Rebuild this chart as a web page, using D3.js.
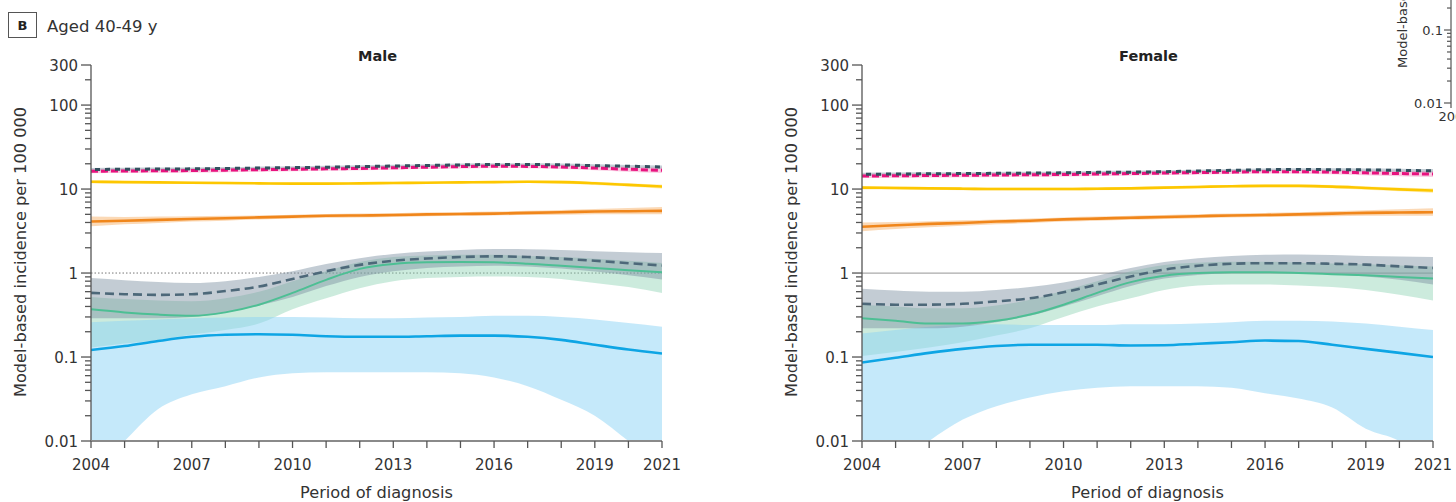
<!DOCTYPE html>
<html><head><meta charset="utf-8">
<script src="https://cdn.jsdelivr.net/npm/d3@7"></script>
<style>
body{margin:0;background:#fff;overflow:hidden}
svg{display:block}
text{font-family:"DejaVu Sans","Liberation Sans",sans-serif;fill:#333}
</style>
</head><body>
<svg id="c" width="1456" height="502"></svg>
<script>
// ---------- DATA ----------
const years = [2004,2005,2006,2007,2008,2009,2010,2011,2012,2013,2014,2015,2016,2017,2018,2019,2020,2021];
const xTickLabels = [2004,2007,2010,2013,2016,2019,2021];
const yMajorTicks = [0.01,0.1,1,10,100,300];
const yMinorTicks = [0.02,0.03,0.04,0.05,0.06,0.07,0.08,0.09,0.2,0.3,0.4,0.5,0.6,0.7,0.8,0.9,2,3,4,5,6,7,8,9,20,30,40,50,60,70,80,90,200];
const yTickLabels = ["0.01","0.1","1","10","100","300"];

// Male
const maleDark    = [17.1,17.2,17.3,17.4,17.6,17.8,18.0,18.2,18.5,18.8,19.1,19.4,19.6,19.6,19.4,19.0,18.7,18.3];
const maleDarkLo  = [16.5,16.6,16.7,16.8,17.0,17.2,17.4,17.6,17.9,18.2,18.5,18.8,19.0,19.0,18.8,18.4,18.0,17.5];
const maleDarkHi  = [17.8,17.9,18.0,18.1,18.3,18.5,18.7,18.9,19.2,19.5,19.8,20.1,20.3,20.3,20.1,19.7,19.4,19.1];
const maleMag     = [16.3,16.4,16.5,16.6,16.8,17.0,17.2,17.4,17.6,17.9,18.2,18.5,18.7,18.6,18.3,17.8,17.2,16.7];
const maleMagLo   = [15.4,15.5,15.6,15.7,15.9,16.1,16.3,16.5,16.7,17.0,17.3,17.6,17.8,17.7,17.3,16.8,16.1,15.5];
const maleMagHi   = [17.3,17.4,17.5,17.6,17.8,18.0,18.2,18.4,18.6,18.9,19.2,19.5,19.7,19.6,19.4,18.9,18.4,18.0];
const maleYel     = [12.2,12.1,12.0,11.9,11.8,11.7,11.6,11.6,11.7,11.8,11.9,12.0,12.1,12.2,12.1,11.7,11.2,10.7];
const maleYelLo   = [11.7,11.7,11.6,11.5,11.4,11.3,11.2,11.2,11.3,11.4,11.5,11.6,11.7,11.8,11.6,11.2,10.7,10.1];
const maleYelHi   = [12.7,12.5,12.4,12.3,12.2,12.1,12.0,12.0,12.1,12.2,12.3,12.4,12.5,12.6,12.6,12.2,11.7,11.3];
const maleOra     = [4.1,4.2,4.3,4.4,4.5,4.6,4.7,4.8,4.85,4.9,5.0,5.05,5.1,5.2,5.3,5.4,5.45,5.5];
const maleOraLo   = [3.6,3.8,3.95,4.1,4.2,4.35,4.45,4.55,4.6,4.65,4.75,4.8,4.85,4.9,4.95,5.0,5.0,5.0];
const maleOraHi   = [4.7,4.65,4.7,4.75,4.8,4.85,4.95,5.05,5.1,5.15,5.25,5.3,5.4,5.5,5.65,5.8,5.95,6.1];
const maleGray    = [0.58,0.56,0.55,0.56,0.61,0.69,0.85,1.05,1.25,1.40,1.49,1.55,1.58,1.55,1.48,1.40,1.31,1.23];
const maleGrayLo  = [0.29,0.29,0.29,0.30,0.34,0.41,0.52,0.70,0.90,1.05,1.15,1.20,1.22,1.20,1.13,1.04,0.94,0.84];
const maleGrayHi  = [0.87,0.82,0.78,0.76,0.80,0.90,1.05,1.28,1.50,1.68,1.80,1.88,1.93,1.92,1.88,1.82,1.77,1.73];
const maleGreen   = [0.37,0.34,0.32,0.31,0.34,0.42,0.58,0.83,1.12,1.28,1.34,1.35,1.34,1.29,1.22,1.15,1.08,1.02];
const maleGreenLo = [0.13,0.145,0.16,0.185,0.21,0.25,0.37,0.50,0.66,0.80,0.87,0.90,0.91,0.90,0.85,0.76,0.68,0.58];
const maleGreenHi = [0.52,0.49,0.47,0.46,0.50,0.60,0.80,1.05,1.35,1.55,1.62,1.65,1.65,1.60,1.55,1.48,1.40,1.32];
const maleBlue    = [0.121,0.135,0.155,0.174,0.184,0.187,0.184,0.177,0.174,0.174,0.177,0.18,0.18,0.174,0.16,0.14,0.123,0.11];
const maleBlueLo  = [0.004,0.01,0.024,0.036,0.045,0.057,0.064,0.066,0.066,0.066,0.066,0.064,0.057,0.045,0.031,0.02,0.01,0.005];
const maleBlueHi  = [0.26,0.27,0.28,0.29,0.295,0.30,0.30,0.295,0.29,0.29,0.295,0.30,0.31,0.31,0.30,0.28,0.255,0.23];

// Female
const femDark    = [15.0,15.1,15.2,15.3,15.4,15.5,15.6,15.8,15.9,16.1,16.4,16.7,17.0,17.1,17.0,16.9,16.7,16.5];
const femDarkLo  = [14.4,14.5,14.6,14.7,14.8,14.9,15.0,15.2,15.3,15.5,15.8,16.1,16.4,16.5,16.4,16.2,16.0,15.7];
const femDarkHi  = [15.6,15.7,15.8,15.9,16.0,16.1,16.2,16.4,16.5,16.7,17.0,17.3,17.6,17.7,17.7,17.6,17.5,17.3];
const femMag     = [14.3,14.4,14.5,14.6,14.7,14.8,14.9,15.1,15.3,15.5,15.7,15.9,16.1,16.1,15.9,15.6,15.3,15.1];
const femMagLo   = [13.5,13.6,13.7,13.8,13.9,14.0,14.1,14.3,14.5,14.7,14.9,15.1,15.3,15.2,15.0,14.6,14.2,13.9];
const femMagHi   = [15.2,15.3,15.4,15.5,15.6,15.7,15.8,16.0,16.2,16.4,16.6,16.8,17.0,17.0,16.9,16.7,16.5,16.4];
const femYel     = [10.4,10.3,10.2,10.1,10.0,10.0,10.0,10.1,10.2,10.4,10.6,10.8,10.9,10.9,10.7,10.3,9.9,9.6];
const femYelLo   = [9.9,9.9,9.8,9.7,9.6,9.6,9.6,9.7,9.8,10.0,10.2,10.4,10.5,10.5,10.2,9.8,9.4,9.0];
const femYelHi   = [10.9,10.8,10.6,10.5,10.4,10.4,10.4,10.5,10.6,10.8,11.0,11.2,11.3,11.3,11.2,10.8,10.4,10.2];
const femOra     = [3.56,3.7,3.85,3.95,4.1,4.2,4.35,4.45,4.55,4.65,4.75,4.85,4.9,5.0,5.1,5.2,5.25,5.3];
const femOraLo   = [3.15,3.35,3.5,3.65,3.8,3.95,4.1,4.2,4.3,4.4,4.5,4.6,4.65,4.7,4.75,4.8,4.8,4.8];
const femOraHi   = [4.0,4.05,4.15,4.25,4.35,4.45,4.6,4.7,4.8,4.9,5.0,5.1,5.2,5.3,5.45,5.6,5.75,5.9];
const femGray    = [0.43,0.42,0.42,0.43,0.46,0.50,0.59,0.73,0.91,1.10,1.22,1.29,1.31,1.31,1.29,1.26,1.20,1.15];
const femGrayLo  = [0.22,0.22,0.22,0.23,0.26,0.31,0.40,0.53,0.70,0.86,0.95,1.00,1.02,1.01,0.97,0.91,0.83,0.73];
const femGrayHi  = [0.65,0.62,0.60,0.60,0.63,0.68,0.77,0.93,1.15,1.35,1.50,1.60,1.65,1.66,1.64,1.60,1.57,1.55];
const femGreen   = [0.29,0.27,0.25,0.25,0.27,0.32,0.42,0.58,0.78,0.93,1.0,1.02,1.02,1.0,0.97,0.94,0.90,0.86];
const femGreenLo = [0.103,0.115,0.13,0.15,0.18,0.22,0.30,0.40,0.50,0.63,0.71,0.73,0.73,0.71,0.68,0.63,0.55,0.47];
const femGreenHi = [0.42,0.40,0.38,0.38,0.41,0.48,0.62,0.80,1.05,1.25,1.33,1.36,1.36,1.33,1.30,1.27,1.23,1.20];
const femBlue    = [0.086,0.098,0.112,0.125,0.135,0.14,0.14,0.14,0.137,0.138,0.144,0.15,0.157,0.155,0.14,0.125,0.112,0.10];
const femBlueLo  = [0.003,0.005,0.01,0.018,0.026,0.033,0.039,0.043,0.045,0.045,0.045,0.043,0.037,0.032,0.025,0.014,0.01,0.005];
const femBlueHi  = [0.19,0.21,0.23,0.24,0.245,0.24,0.24,0.24,0.245,0.245,0.25,0.26,0.27,0.27,0.265,0.25,0.23,0.21];

// partial neighbouring panel (cut off at the right edge)
const edgeMajorTicks = [0.01,0.1];
const edgeMinorTicks = [0.02,0.03,0.04,0.05,0.06,0.07,0.08,0.09,0.2];
const edgeTickLabels = ["0.01","0.1"];

// ---------- DRAW ----------
const svg = d3.select("#c");
const AX = "#555";
const FS = 15;
const TFS = 16.2;

svg.append("rect").attr("x",8.5).attr("y",12.5).attr("width",28).attr("height",25)
  .attr("fill","none").attr("stroke","#555").attr("stroke-width",1);
svg.append("text").attr("x",22.5).attr("y",30).attr("text-anchor","middle")
  .attr("font-size",13).attr("font-weight","bold").style("fill","#222").text("B");
svg.append("text").attr("x",47).attr("y",32).attr("font-size",16.5).text("Aged 40-49 y");

const styles = {
  blue:{line:"#0ea5e4",band:"#8bd3f5",bo:0.5},
  green:{line:"#4dbf94",band:"#86cfae",bo:0.42},
  gray:{line:"#4d6879",band:"#7a8fa0",bo:0.45},
  ora:{line:"#f0861b",band:"#f9bf86",bo:0.6},
  yel:{line:"#fdc700",band:"#fde38a",bo:0.55},
  mag:{line:"#e8137f",band:"#f4a3cb",bo:0.55},
  dark:{line:"#33505f",band:"#7f95a3",bo:0.45}
};
const bandOrder = ["green","blue","gray","ora","yel","mag","dark"];
const lineOrder = ["blue","green","gray","ora","yel","mag","dark"];

function panel(p){
  const g = svg.append("g");
  const x = d3.scaleLinear().domain([2004,2021]).range([p.x0,p.x1]);
  const y = d3.scaleLog().domain([0.01,300]).range([441,65]);
  const cid = "clip"+p.id;
  svg.append("clipPath").attr("id",cid).append("rect")
    .attr("x",p.x0).attr("y",60).attr("width",p.x1-p.x0).attr("height",381);

  // reference line at 1
  g.append("line").attr("x1",p.x0).attr("x2",p.x1).attr("y1",y(1)).attr("y2",y(1))
    .attr("stroke",p.refColor).attr("stroke-width",p.refWidth).attr("stroke-dasharray",p.refDash);

  const plot = g.append("g").attr("clip-path",`url(#${cid})`);
  const area = (lo,hi)=>d3.area().x((v,i)=>x(years[i])).y0((v,i)=>y(lo[i])).y1((v,i)=>y(hi[i]))
      .curve(d3.curveMonotoneX)(lo);
  const line = d3.line().x((v,i)=>x(years[i])).y(v=>y(v)).curve(d3.curveMonotoneX);
  const byK = {}; p.series.forEach(s=>byK[s.k]=s);

  bandOrder.forEach(k=>{
    const s = byK[k], st = styles[k];
    plot.append("path").attr("d",area(s.lo,s.hi)).attr("fill",st.band).attr("fill-opacity",st.bo);
  });
  lineOrder.forEach(k=>{
    const s = byK[k], st = styles[k];
    const path = plot.append("path").attr("d",line(s.v)).attr("fill","none")
      .attr("stroke",st.line).attr("stroke-width",s.w||2.6);
    if(s.dash) path.attr("stroke-dasharray",s.dash);
    if(s.off) path.attr("stroke-dashoffset",s.off);
  });

  // y axis
  g.append("line").attr("x1",p.x0).attr("x2",p.x0).attr("y1",y(300)).attr("y2",y(0.01))
    .attr("stroke",AX).attr("stroke-width",1.3);
  g.selectAll(null).data(yMajorTicks).join("line")
    .attr("x1",p.x0-10).attr("x2",p.x0).attr("y1",d=>y(d)).attr("y2",d=>y(d))
    .attr("stroke",AX).attr("stroke-width",1.3);
  g.selectAll(null).data(yMinorTicks).join("line")
    .attr("x1",p.x0-6).attr("x2",p.x0).attr("y1",d=>y(d)).attr("y2",d=>y(d))
    .attr("stroke",AX).attr("stroke-width",1.3);
  g.selectAll(null).data(yMajorTicks).join("text")
    .attr("x",p.x0-13).attr("y",d=>y(d)+5.5).attr("text-anchor","end").attr("font-size",FS)
    .text((d,i)=>yTickLabels[i]);

  // x axis
  g.append("line").attr("x1",p.x0).attr("x2",p.x1).attr("y1",441).attr("y2",441)
    .attr("stroke","#8a8a8a").attr("stroke-width",2);
  g.selectAll(null).data(years).join("line")
    .attr("x1",d=>x(d)).attr("x2",d=>x(d)).attr("y1",441).attr("y2",448)
    .attr("stroke",AX).attr("stroke-width",1.3);
  g.selectAll(null).data(xTickLabels).join("text")
    .attr("x",d=>x(d)).attr("y",470).attr("text-anchor","middle").attr("font-size",FS)
    .text(d=>d);

  g.append("text").attr("x",(p.x0+p.x1)/2).attr("y",498).attr("text-anchor","middle")
    .attr("font-size",TFS).text("Period of diagnosis");
  g.append("text").attr("x",(p.x0+p.x1)/2+1).attr("y",61).attr("text-anchor","middle")
    .attr("font-size",14.5).attr("font-weight","bold").style("fill","#222").text(p.title);
  g.append("text").attr("transform",`translate(${p.x0-65},252) rotate(-90)`)
    .attr("text-anchor","middle").attr("font-size",TFS).text("Model-based incidence per 100 000");
}

function seriesOf(d){
  return [
    {k:"blue",v:d.blue,lo:d.blueLo,hi:d.blueHi},
    {k:"green",v:d.green,lo:d.greenLo,hi:d.greenHi,w:2},
    {k:"gray",v:d.gray,lo:d.grayLo,hi:d.grayHi,dash:"9,5"},
    {k:"ora",v:d.ora,lo:d.oraLo,hi:d.oraHi},
    {k:"yel",v:d.yel,lo:d.yelLo,hi:d.yelHi},
    {k:"mag",v:d.mag,lo:d.magLo,hi:d.magHi,dash:"7,3",w:3},
    {k:"dark",v:d.dark,lo:d.darkLo,hi:d.darkHi,dash:"5,5",off:6,w:3}
  ];
}

panel({id:"m",x0:91,x1:662,title:"Male",refColor:"#777",refWidth:1,refDash:"1.5,2",
  series:seriesOf({blue:maleBlue,blueLo:maleBlueLo,blueHi:maleBlueHi,green:maleGreen,greenLo:maleGreenLo,greenHi:maleGreenHi,
    gray:maleGray,grayLo:maleGrayLo,grayHi:maleGrayHi,ora:maleOra,oraLo:maleOraLo,oraHi:maleOraHi,
    yel:maleYel,yelLo:maleYelLo,yelHi:maleYelHi,mag:maleMag,magLo:maleMagLo,magHi:maleMagHi,
    dark:maleDark,darkLo:maleDarkLo,darkHi:maleDarkHi})});
panel({id:"f",x0:862,x1:1433,title:"Female",refColor:"#aaa",refWidth:1.3,refDash:null,
  series:seriesOf({blue:femBlue,blueLo:femBlueLo,blueHi:femBlueHi,green:femGreen,greenLo:femGreenLo,greenHi:femGreenHi,
    gray:femGray,grayLo:femGrayLo,grayHi:femGrayHi,ora:femOra,oraLo:femOraLo,oraHi:femOraHi,
    yel:femYel,yelLo:femYelLo,yelHi:femYelHi,mag:femMag,magLo:femMagLo,magHi:femMagHi,
    dark:femDark,darkLo:femDarkLo,darkHi:femDarkHi})});

// partial panel at the right edge
(function(){
  const g = svg.append("g");
  const ax = 1451;
  const y = d3.scaleLog().domain([0.01,0.1]).range([103,30]);
  g.append("line").attr("x1",ax).attr("x2",ax).attr("y1",0).attr("y2",103).attr("stroke",AX).attr("stroke-width",1.2);
  g.selectAll(null).data(edgeMajorTicks).join("line")
    .attr("x1",ax-7).attr("x2",ax).attr("y1",d=>y(d)).attr("y2",d=>y(d)).attr("stroke",AX).attr("stroke-width",1.2);
  g.selectAll(null).data(edgeMinorTicks).join("line")
    .attr("x1",ax-4).attr("x2",ax).attr("y1",d=>y(d)).attr("y2",d=>y(d)).attr("stroke",AX).attr("stroke-width",1.2);
  g.selectAll(null).data(edgeMajorTicks).join("text")
    .attr("x",ax-8).attr("y",d=>y(d)+5).attr("text-anchor","end").attr("font-size",13)
    .text((d,i)=>edgeTickLabels[i]);
  g.append("line").attr("x1",ax).attr("x2",ax).attr("y1",103).attr("y2",108).attr("stroke",AX).attr("stroke-width",1.2);
  g.append("text").attr("x",1455).attr("y",121).attr("text-anchor","middle").attr("font-size",13).text("2004");
  g.append("text").attr("transform","translate(1407,68) rotate(-90)").attr("font-size",13)
    .text("Model-based incidence per 100 000");
})();
</script>
</body></html>
